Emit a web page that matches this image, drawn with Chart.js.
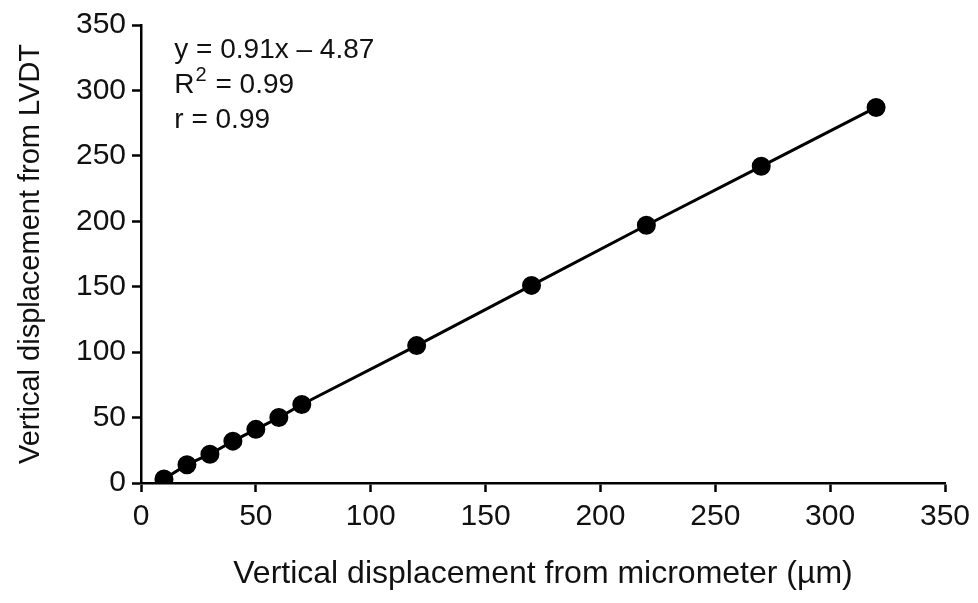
<!DOCTYPE html>
<html>
<head>
<meta charset="utf-8">
<script src="https://cdn.jsdelivr.net/npm/chart.js"></script>
<style>
  html, body { margin: 0; padding: 0; background: #fff; }
  #wrap { width: 978px; height: 603px; }
</style>
</head>
<body>
<div id="wrap"><canvas id="calib"></canvas></div>
<script>
// micrometer reading vs LVDT reading (µm)
const micrometer = [10, 20, 30, 40, 50, 60, 70, 120, 170, 220, 270, 320];
const lvdt = [3, 14, 22, 32, 41, 50, 60, 105, 151, 197, 242, 287];
const fitLines = ['y = 0.91x \u2013 4.87', 'R2 = 0.99', 'r = 0.99'];

const FONT = '"Liberation Sans", Arial, sans-serif';

// regression text in the top-left corner
const fitText = {
  id: 'fitText',
  afterDraw(chart) {
    const { ctx, scales } = chart;
    const x0 = scales.x.getPixelForValue(14.5);
    let y = scales.y.getPixelForValue(331);
    ctx.save();
    ctx.fillStyle = '#111';
    ctx.textBaseline = 'middle';
    fitLines.forEach(function (t) {
      ctx.font = '28px ' + FONT;
      if (t.startsWith('R2')) {
        ctx.fillText('R', x0, y);
        let w = ctx.measureText('R').width;
        ctx.font = '20px ' + FONT;
        ctx.fillText('2', x0 + w + 1, y - 9);
        let w2 = ctx.measureText('2').width;
        ctx.font = '28px ' + FONT;
        ctx.fillText(t.slice(2), x0 + w + w2 + 2, y);
      } else {
        ctx.fillText(t, x0, y);
      }
      y += 35;
    });
    ctx.restore();
  }
};

new Chart(document.getElementById('calib'), {
  type: 'scatter',
  data: {
    datasets: [{
      data: micrometer.map((x, i) => ({ x: x, y: lvdt[i] })),
      showLine: true,
      borderColor: '#000',
      borderWidth: 3,
      backgroundColor: '#000',
      pointRadius: 8,
      pointHoverRadius: 8
    }]
  },
  options: {
    responsive: true,
    maintainAspectRatio: false,
    animation: false,
    layout: { padding: { left: 0, right: 33, top: 25, bottom: 0 } },
    plugins: { legend: { display: false }, tooltip: { enabled: false } },
    scales: {
      x: {
        type: 'linear',
        min: 0, max: 350,
        afterFit(scale) { scale.height = 120; },
        ticks: { stepSize: 50, color: '#111', font: { family: FONT, size: 30 }, padding: 7, maxRotation: 0 },
        grid: { drawOnChartArea: false, tickLength: 9, color: '#000', tickWidth: 2.5 },
        border: { color: '#000', width: 2.5 },
        title: { display: true, text: 'Vertical displacement from micrometer (\u00b5m)', color: '#111',
                 font: { family: FONT, size: 32 }, padding: { top: 0, bottom: 10 } }
      },
      y: {
        type: 'linear',
        min: 0, max: 350,
        afterFit(scale) { scale.width = 141; },
        ticks: { stepSize: 50, color: '#111', font: { family: FONT, size: 30 }, padding: 6 },
        grid: { drawOnChartArea: false, tickLength: 9, color: '#000', tickWidth: 2.5 },
        border: { color: '#000', width: 2.5 },
        title: { display: true, text: 'Vertical displacement from LVDT', color: '#111',
                 font: { family: FONT, size: 29 }, padding: { top: 14, bottom: 0 } }
      }
    }
  },
  plugins: [fitText]
});
</script>
</body>
</html>
